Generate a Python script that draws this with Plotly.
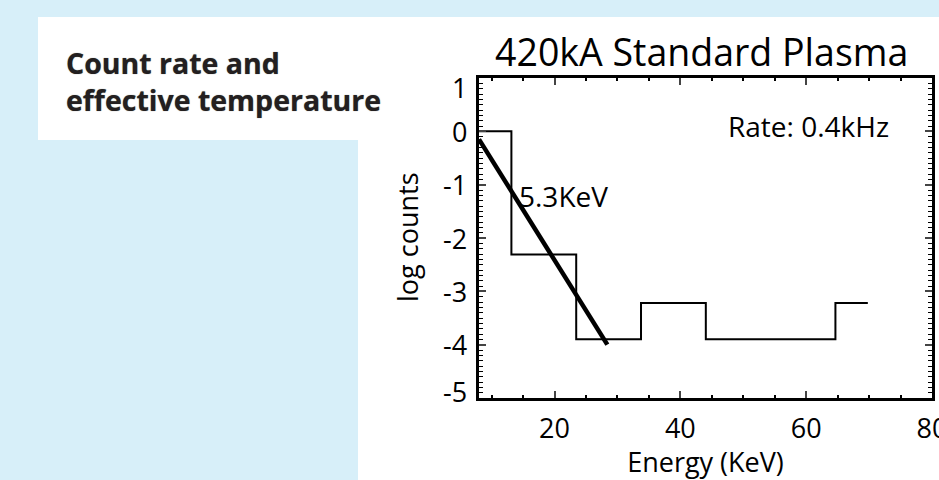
import plotly.graph_objects as go

# Spectrum: bin centres (keV) and log counts
energy = [8.0, 18.3, 28.6, 38.9, 49.2, 59.5, 69.8]
log_counts = [0.0, -2.31, -3.90, -3.22, -3.90, -3.90, -3.22]

# Exponential fit: effective temperature (keV) and fit range
temp_kev = 5.3
fit_x = [8.0, 28.4]
fit_y0 = -0.15
fit_y = [fit_y0 - (x - fit_x[0]) / temp_kev for x in fit_x]

rate_khz = 0.4
x_ticks = [20, 40, 60, 80]
y_ticks = [1, 0, -1, -2, -3, -4, -5]

W, H = 939, 480
L, R, T, B = 479, 7, 78, 82
PW, PH = W - L - R, H - T - B
FONT = "Open Sans"
BG = "#d7eff9"


def px(xp):
    return (xp - L) / PW


def py(yp):
    return (H - B - yp) / PH


fig = go.Figure()

fig.add_trace(go.Scatter(
    x=energy, y=log_counts, mode="lines",
    line=dict(shape="hvh", color="black", width=2),
    showlegend=False, hoverinfo="skip",
))
fig.add_trace(go.Scatter(
    x=fit_x, y=fit_y, mode="lines",
    line=dict(color="black", width=4.5),
    showlegend=False, hoverinfo="skip",
))

shapes = [
    dict(type="rect", xref="paper", yref="paper", layer="below",
         x0=px(38), x1=px(W + 5), y0=py(140), y1=py(17),
         fillcolor="white", line=dict(width=0)),
    dict(type="rect", xref="paper", yref="paper", layer="below",
         x0=px(358), x1=px(W + 5), y0=py(H + 5), y1=py(139),
         fillcolor="white", line=dict(width=0)),
]

annotations = [
    dict(text="Count rate and<br>effective temperature", xref="paper", yref="paper",
         x=px(64), y=py(81), xanchor="left", yanchor="middle", align="left",
         showarrow=False,
         font=dict(family=FONT, size=28.5, color="#231f20", weight="bold",
                   shadow="0px 0px 1px #777")),
    dict(text="420kA Standard Plasma", xref="paper", yref="paper",
         x=px(701), y=py(52), xanchor="center", yanchor="middle",
         showarrow=False, font=dict(family=FONT, size=37.5, color="black")),
    dict(text=f"Rate: {rate_khz}kHz", xref="paper", yref="paper",
         x=px(726), y=py(126), xanchor="left", yanchor="middle",
         showarrow=False, font=dict(family=FONT, size=28, color="black")),
    dict(text=f"{temp_kev}KeV", xref="paper", yref="paper",
         x=px(517), y=py(196), xanchor="left", yanchor="middle",
         showarrow=False, font=dict(family=FONT, size=28, color="black")),
]

# y tick labels; the end labels sit inside the axis span
for v in y_ticks:
    shift = -9 if v == max(y_ticks) else (7 if v == min(y_ticks) else 0)
    annotations.append(dict(
        text=str(v), xref="x domain", yref="y", x=0, y=v, xshift=-10, yshift=shift,
        xanchor="right", yanchor="middle", showarrow=False,
        font=dict(family=FONT, size=27, color="black"),
    ))

fig.update_layout(
    width=W, height=H,
    margin=dict(l=L, r=R, t=T, b=B, autoexpand=False),
    paper_bgcolor=BG, plot_bgcolor="white",
    shapes=shapes, annotations=annotations,
    font=dict(family=FONT, color="black"),
    xaxis=dict(
        range=[8, 80], tickvals=x_ticks, ticks="inside", ticklen=7, tickwidth=2,
        showline=True, linewidth=2.7, linecolor="black", mirror="ticks",
        showgrid=False, zeroline=False,
        tickfont=dict(family=FONT, size=27), ticklabelstandoff=5,
        ticklabeloverflow="allow",
        minor=dict(dtick=5, tick0=0, ticks="inside", ticklen=3, tickwidth=2,
                   tickcolor="black", showgrid=False),
        title=dict(text="Energy (KeV)", font=dict(family=FONT, size=27), standoff=2),
    ),
    yaxis=dict(
        range=[-5, 1], dtick=1, tick0=0, ticks="inside", ticklen=7, tickwidth=2,
        showline=True, linewidth=2.7, linecolor="black", mirror="ticks",
        showgrid=False, zeroline=False, showticklabels=False,
        minor=dict(dtick=0.1, tick0=0, ticks="inside", ticklen=4, tickwidth=1.2,
                   tickcolor="black", showgrid=False),
    ),
)

fig.add_annotation(
    text="log counts", xref="paper", yref="paper", x=px(407), y=py(237),
    textangle=-90, xanchor="center", yanchor="middle", showarrow=False,
    font=dict(family=FONT, size=27, color="black"),
)

fig.write_html("out.html")
